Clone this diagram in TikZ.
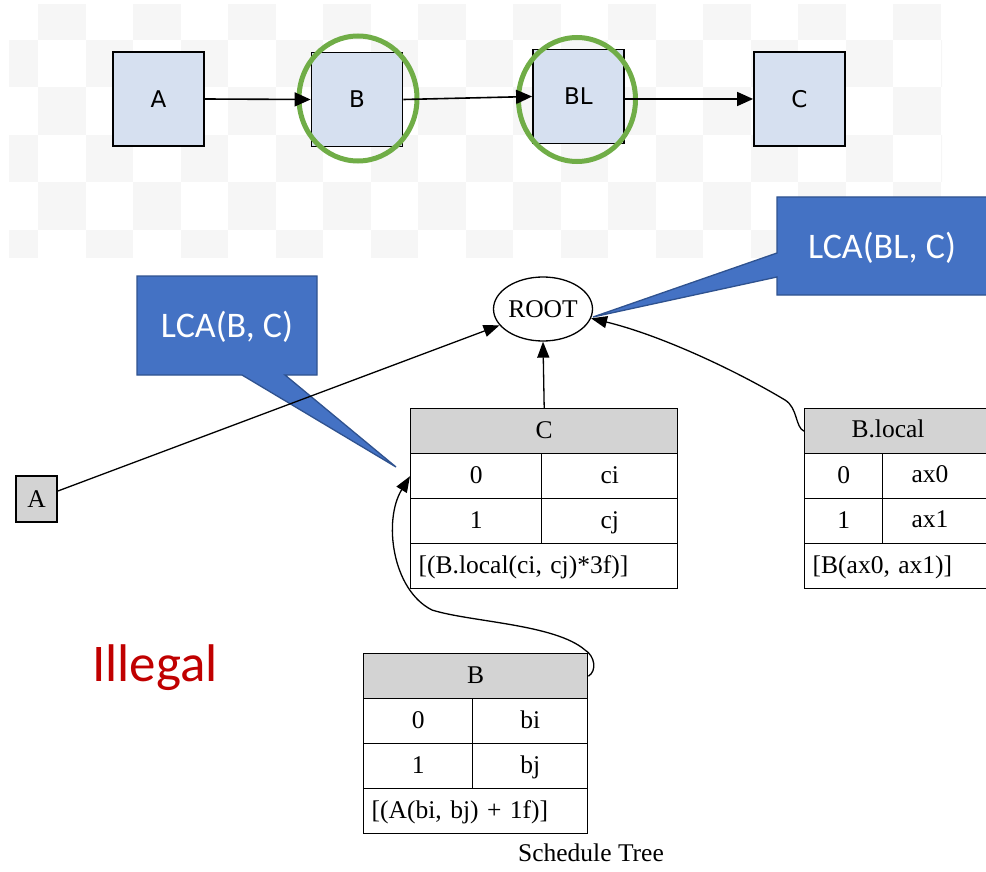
\documentclass[tikz,border=0pt]{standalone}
\usepackage{fontspec}
\setmainfont{Liberation Serif}
\newfontfamily\flowfont{DejaVu Sans}
\newfontfamily\notefont{Carlito}
\usetikzlibrary{arrows.meta,shapes.geometric}

\definecolor{checkgrey}{HTML}{F6F6F6}
\definecolor{boxblue}{HTML}{D6E0F0}
\definecolor{ringgreen}{HTML}{70AD47}
\definecolor{calloutfill}{HTML}{4472C4}
\definecolor{calloutedge}{HTML}{2F528F}
\definecolor{hdrgrey}{HTML}{D3D3D3}
\definecolor{illegalred}{HTML}{C00000}

\begin{document}
\begin{tikzpicture}[x=1pt,y=-1pt,
  flowbox/.style={draw=black, line width=1.8pt, fill=boxblue, minimum width=91pt,
    minimum height=94pt, inner sep=0pt, font=\flowfont\fontsize{23}{23}\selectfont},
  flowarrow/.style={line width=1.6pt, -{Triangle[length=16pt,width=14pt]}},
  ring/.style={draw=ringgreen, line width=5pt, ellipse, inner sep=0pt},
  notebox/.style={fill=calloutfill, draw=calloutedge, line width=1.3pt, line join=miter},
  notetext/.style={text=white, inner sep=0pt, font=\notefont\fontsize{36}{36}\selectfont},
  tabfont/.style={font=\fontsize{25.5}{25.5}\selectfont},
  celltext/.style={tabfont, inner sep=0pt, text height=18pt, text depth=4pt},
  cell/.style={celltext, draw=black, line width=1.4pt, minimum height=45pt},
  hcell/.style={cell, fill=hdrgrey},
  fcell/.style={cell, text width=#1, inner xsep=8pt, align=left},
  treeedge/.style={line width=1.3pt, -{Triangle[length=16pt,width=12pt]}},
]
\useasboundingbox (0,0) rectangle (986,872);
\clip (0,0) rectangle (986,872);

% checkered backdrop behind the flow diagram
\begin{scope}
  \clip (9,5) rectangle (942,257);
  \foreach \i in {-1,...,19} {
    \foreach \j in {-1,...,4} {
      \pgfmathtruncatemacro{\parity}{mod(\i+\j+2,2)}
      \ifnum\parity=1
        \fill[checkgrey] ({38+47.5*\i},{40+47.5*\j}) rectangle +(47.5,47.5);
      \fi
    }
  }
\end{scope}

% flow diagram
\node[flowbox] (tA)  at (158.5,99)  {A};
\node[flowbox] (tB)  at (357,99.5)  {B};
\node[flowbox] (tBL) at (578.5,96.5) {BL};
\node[flowbox] (tC)  at (799.5,99)  {C};
\node[ring, minimum width=118pt, minimum height=125pt] (ringB)  at (358,98.5) {};
\node[ring, minimum width=117pt, minimum height=124pt] (ringBL) at (577,99.5) {};
\draw[flowarrow] (tA.east) -- (tB.west);
\draw[flowarrow] (tB.east) -- (tBL.west);
\draw[flowarrow] (tBL.east |- tC.west) -- (tC.west);

% callouts
\filldraw[notebox] (137,276) -- (317,276) -- (317,375) -- (285,375) -- (396,467)
  -- (242,375) -- (137,375) -- cycle;
\node[notetext] (lcaB) at (227,327) {LCA(B, C)};
\filldraw[notebox] (777,197) -- (1000,197) -- (1000,295) -- (777,295) -- (777,277)
  -- (593,317) -- (777,253) -- cycle;
\node[notetext] (lcaBL) at (882,248) {LCA(BL, C)};

% schedule tree
\node[draw, ellipse, line width=1.3pt, minimum width=99pt, minimum height=64pt,
  inner sep=0pt, tabfont] (root) at (543,309) {ROOT};
\node[draw, line width=1.4pt, fill=hdrgrey, minimum width=41pt, minimum height=46pt,
  inner sep=0pt, tabfont] (nA) at (36.5,499) {A};

% table C
\node[hcell, minimum width=267pt, anchor=north west] (Chead) at (410,408) {C};
\node[cell, minimum width=131pt, anchor=north west] (C0a) at (410,453) {0};
\node[cell, minimum width=136pt, anchor=north west] (C0b) at (541,453) {ci};
\node[cell, minimum width=131pt, anchor=north west] (C1a) at (410,498) {1};
\node[cell, minimum width=136pt, anchor=north west] (C1b) at (541,498) {cj};
\node[fcell=251pt, anchor=north west] (Cfoot) at (410,543) {[(B.local(ci, cj)*3f)]};

% table B.local
\node[hcell, minimum width=196pt, anchor=north west] (BLhead) at (804,408) {};
\node[celltext] (BLheadtxt) at (888,430.5) {B.local};
\node[cell, minimum width=78pt, anchor=north west] (BL0a) at (804,453) {0};
\node[cell, minimum width=118pt, anchor=north west] (BL0b) at (882,453) {};
\node[celltext] (BL0btxt) at (930,475.5) {ax0};
\node[cell, minimum width=78pt, anchor=north west] (BL1a) at (804,498) {1};
\node[cell, minimum width=118pt, anchor=north west] (BL1b) at (882,498) {};
\node[celltext] (BL1btxt) at (930,520.5) {ax1};
\node[fcell=180pt, anchor=north west] (BLfoot) at (804,543) {[B(ax0, ax1)]};

% table B
\node[hcell, minimum width=224pt, anchor=north west] (Bhead) at (363,653) {B};
\node[cell, minimum width=109pt, anchor=north west] (B0a) at (363,698) {0};
\node[cell, minimum width=115pt, anchor=north west] (B0b) at (472,698) {bi};
\node[cell, minimum width=109pt, anchor=north west] (B1a) at (363,743) {1};
\node[cell, minimum width=115pt, anchor=north west] (B1b) at (472,743) {bj};
\node[fcell=208pt, anchor=north west] (Bfoot) at (363,788) {[(A(bi, bj) + 1f)]};

% tree edges
\draw[treeedge] (nA) -- (root);
\draw[treeedge] (Chead.north) -- (root.south);
\draw[treeedge] (BLhead.west) .. controls (795,427) and (798,408) .. (785,400)
  .. controls (735,370) and (660,335) .. (root.-11);
\draw[treeedge] (Bhead.east) .. controls (597,671) and (595,656) .. (585,650)
  .. controls (555,624) and (470,622) .. (432,610)
  .. controls (392,590) and (383,520) .. (C0a.west);

% captions
\node[anchor=base west, inner sep=0pt, text=illegalred,
  font=\notefont\fontsize{53}{53}\selectfont] (illegal) at (92,681) {Illegal};
\node[anchor=base, inner sep=0pt, tabfont] (caption) at (591,861) {Schedule Tree};
\end{tikzpicture}
\end{document}
